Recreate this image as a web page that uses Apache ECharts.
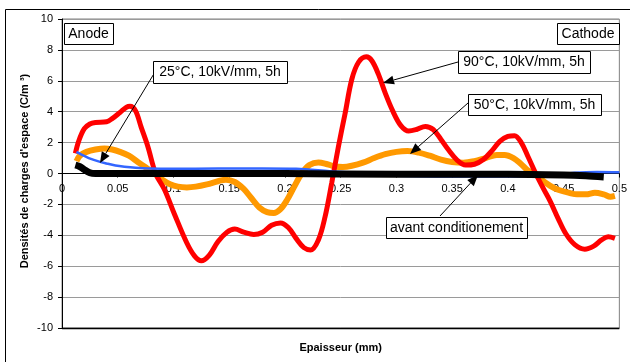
<!DOCTYPE html>
<html><head><meta charset="utf-8">
<script src="https://cdn.jsdelivr.net/npm/echarts@6/dist/echarts.min.js"></script>
<style>html,body{margin:0;padding:0;background:#fff}#c{width:630px;height:362px}</style>
</head><body><div id="c"></div>
<script>
// ---- data (x in mm, y in C/m3) ----
const xTicks = [0,0.05,0.1,0.15,0.2,0.25,0.3,0.35,0.4,0.45,0.5];
const yTicks = [-10,-8,-6,-4,-2,0,2,4,6,8,10];

const red90X = [0.012,0.015,0.02,0.025,0.03,0.04,0.045,0.052,0.058,0.061,0.066,0.071,0.077,0.084,0.092,0.101,0.112,0.119,0.125,0.132,0.14,0.148,0.155,0.163,0.172,0.18,0.188,0.196,0.203,0.21,0.217,0.223,0.23,0.236,0.242,0.248,0.254,0.26,0.266,0.273,0.278,0.284,0.29,0.297,0.304,0.311,0.318,0.326,0.333,0.34,0.347,0.354,0.362,0.37,0.378,0.386,0.393,0.4,0.406,0.412,0.418,0.425,0.432,0.438,0.445,0.452,0.46,0.469,0.477,0.484,0.49,0.496];
const red90Y = [1.3,2.1,2.9,3.2,3.3,3.35,3.55,3.95,4.3,4.35,4.05,3.0,1.75,0,-1.05,-2.65,-4.5,-5.35,-5.65,-5.3,-4.4,-3.8,-3.6,-3.8,-3.95,-3.8,-3.35,-3.2,-3.5,-4.2,-4.8,-4.95,-4.3,-2.8,-0.6,1.75,3.9,6.1,7.2,7.55,7.3,6.4,5.2,4.0,3.1,2.75,2.85,3.05,2.85,2.2,1.5,0.9,0.55,0.6,0.9,1.5,2.1,2.4,2.45,2.0,1.1,0,-1.0,-1.8,-2.9,-3.9,-4.6,-4.9,-4.7,-4.3,-4.1,-4.2];

const orange50X = [0.013,0.016,0.022,0.03,0.038,0.045,0.052,0.06,0.068,0.075,0.083,0.09,0.097,0.104,0.112,0.12,0.13,0.14,0.147,0.155,0.163,0.17,0.177,0.184,0.19,0.196,0.202,0.208,0.215,0.222,0.23,0.238,0.245,0.252,0.26,0.27,0.28,0.29,0.3,0.31,0.32,0.33,0.34,0.35,0.36,0.37,0.38,0.39,0.397,0.405,0.412,0.418,0.424,0.43,0.438,0.445,0.455,0.462,0.47,0.478,0.486,0.492,0.496];
const orange50Y = [0.8,1.15,1.4,1.55,1.62,1.55,1.4,1.15,0.75,0.4,0,-0.4,-0.7,-0.85,-0.9,-0.85,-0.7,-0.5,-0.4,-0.55,-1.0,-1.6,-2.2,-2.5,-2.55,-2.3,-1.7,-0.9,0,0.55,0.72,0.6,0.45,0.42,0.5,0.7,1.0,1.25,1.4,1.45,1.35,1.15,0.9,0.75,0.7,0.8,1.0,1.2,1.2,1.0,0.6,0.2,0,-0.4,-0.8,-1.05,-1.25,-1.35,-1.35,-1.25,-1.35,-1.5,-1.45];

const blue25X = [0.013,0.018,0.024,0.032,0.04,0.048,0.056,0.066,0.078,0.1,0.14,0.18,0.21,0.24,0.27,0.3,0.35,0.4,0.44,0.46,0.48,0.5];
const blue25Y = [1.4,1.2,1.0,0.8,0.65,0.52,0.44,0.37,0.32,0.3,0.32,0.33,0.3,0.15,0,-0.15,-0.2,-0.2,-0.1,0.05,0.1,0.08];

const avantX = [0.012,0.016,0.02,0.025,0.03,0.04,0.1,0.2,0.3,0.4,0.45,0.47,0.486];
const avantY = [0.55,0.45,0.25,0.05,0.0,0.0,0.0,0.0,-0.05,-0.05,-0.1,-0.15,-0.22];

const labels = {
  anode: 'Anode', cathode: 'Cathode',
  s25: '25°C, 10kV/mm, 5h', s90: '90°C, 10kV/mm, 5h', s50: '50°C, 10kV/mm, 5h',
  avant: 'avant conditionement'
};
const xTitle = 'Epaisseur (mm)';
const yTitle = "Densités de charges d'espace (C/m ³)";

function zip(xs, ys){ return xs.map((x,i)=>[x, ys[i]]); }

const FONT = "'Liberation Sans', Arial, sans-serif";
const chart = echarts.init(document.getElementById('c'), null, {renderer:'canvas'});

const GRID_TOP = 19, GRID_BOTTOM = 34, H = 362;
const plotH = H - GRID_TOP - GRID_BOTTOM;
const zeroFrac = (0 - yTicks[0]) / (yTicks[yTicks.length-1] - yTicks[0]);

const option = {
  animation: false,
  backgroundColor: '#fff',
  grid: {left: 62, right: 8, top: GRID_TOP, bottom: GRID_BOTTOM, show: true, borderColor: '#808080', borderWidth: 1, backgroundColor: 'transparent'},
  xAxis: {
    type: 'value', min: xTicks[0], max: xTicks[xTicks.length-1], interval: 0.05,
    offset: -plotH * zeroFrac,
    axisLine: {onZero: false, lineStyle: {color: '#000', width: 1}},
    axisTick: {show: true, inside: false, length: 4, lineStyle: {color: '#000'}},
    axisLabel: {color: '#000', fontSize: 11, fontFamily: FONT, margin: 10,
      formatter: v => String(Math.round(v*100)/100)},
    splitLine: {show: false},
    z: 1
  },
  yAxis: {
    type: 'value', min: yTicks[0], max: yTicks[yTicks.length-1], interval: 2,
    axisLine: {show: true, onZero: false, lineStyle: {color: '#000', width: 1}},
    axisTick: {show: true, inside: false, length: 4, lineStyle: {color: '#000'}},
    axisLabel: {color: '#000', fontSize: 11, fontFamily: FONT, margin: 9},
    splitLine: {show: true, lineStyle: {color: '#9a9a9a', width: 1}}
  },
  series: [
    {name: '50°C', type: 'line', data: zip(orange50X, orange50Y), smooth: 0.35, showSymbol: false,
      lineStyle: {color: '#FF9900', width: 6}, z: 2},
    {name: '90°C', type: 'line', data: zip(red90X, red90Y), smooth: 0.35, showSymbol: false,
      lineStyle: {color: '#FF0000', width: 5}, z: 3},
    {name: '25°C', type: 'line', data: zip(blue25X, blue25Y), smooth: 0.35, showSymbol: false,
      lineStyle: {color: '#3366FF', width: 2.5}, z: 4},
    {name: 'avant', type: 'line', data: zip(avantX, avantY), smooth: 0.3, showSymbol: false,
      lineStyle: {color: '#000', width: 7}, z: 5}
  ]
};
chart.setOption(option);

// ---- annotations ----
function box(x, y, w, h, text){
  return [
    {type:'rect', shape:{x:x+0.5, y:y+0.5, width:w, height:h}, style:{fill:'#fff', stroke:'#000', lineWidth:1}, z:100},
    {type:'text', x:x+w/2, y:y+h/2+0.5, style:{text:text, font:'14px '+FONT, fill:'#000', align:'center', verticalAlign:'middle'}, z:101}
  ];
}
function arrow(x1, y1, x2, y2){
  const dx = x2-x1, dy = y2-y1, L = Math.sqrt(dx*dx+dy*dy);
  const ux = dx/L, uy = dy/L, hl = 11, hw = 4.5;
  const bx = x2-ux*hl, by = y2-uy*hl;
  return [
    {type:'line', shape:{x1:x1, y1:y1, x2:bx, y2:by}, style:{stroke:'#000', lineWidth:1}, z:99},
    {type:'polygon', shape:{points:[[x2,y2],[bx-uy*hw, by+ux*hw],[bx+uy*hw, by-ux*hw]]}, style:{fill:'#000'}, z:99}
  ];
}
const p0 = chart.convertToPixel({gridIndex:0}, [0,-10]);
const p1 = chart.convertToPixel({gridIndex:0}, [0.5,-10]);
const pc = chart.convertToPixel({gridIndex:0}, [0.25,0]);
let g = [];
g.push({type:'rect', shape:{x:5.5, y:9.5, width:700, height:400}, style:{fill:'none', stroke:'#000', lineWidth:1}, z:0, silent:true});
g.push({type:'line', shape:{x1:p0[0], y1:p0[1]+0.5, x2:p1[0], y2:p1[1]+0.5}, style:{stroke:'#000', lineWidth:1.5}, z:50});
g = g.concat(arrow(155, 72, 100, 163));
g = g.concat(arrow(458, 62, 383, 83));
g = g.concat(arrow(468, 103, 410, 154));
g = g.concat(arrow(440, 216, 478, 175));
g = g.concat(box(64, 23, 49, 21, labels.anode));
g = g.concat(box(557, 23, 62, 21, labels.cathode));
g = g.concat(box(153, 61, 134, 22, labels.s25));
g = g.concat(box(458, 51, 132, 22, labels.s90));
g = g.concat(box(468, 94, 133, 21, labels.s50));
g = g.concat(box(386, 217, 141, 21, labels.avant));
g.push({type:'text', x:pc[0]+0, y:348, style:{text:xTitle, font:'bold 11px '+FONT, fill:'#000', align:'center', verticalAlign:'middle'}, z:10});
g.push({type:'text', x:25, y:171, rotation:Math.PI/2, style:{text:yTitle, font:'bold 11px '+FONT, fill:'#000', align:'center', verticalAlign:'middle'}, z:10});
chart.setOption({graphic: g});
</script>
</body></html>
